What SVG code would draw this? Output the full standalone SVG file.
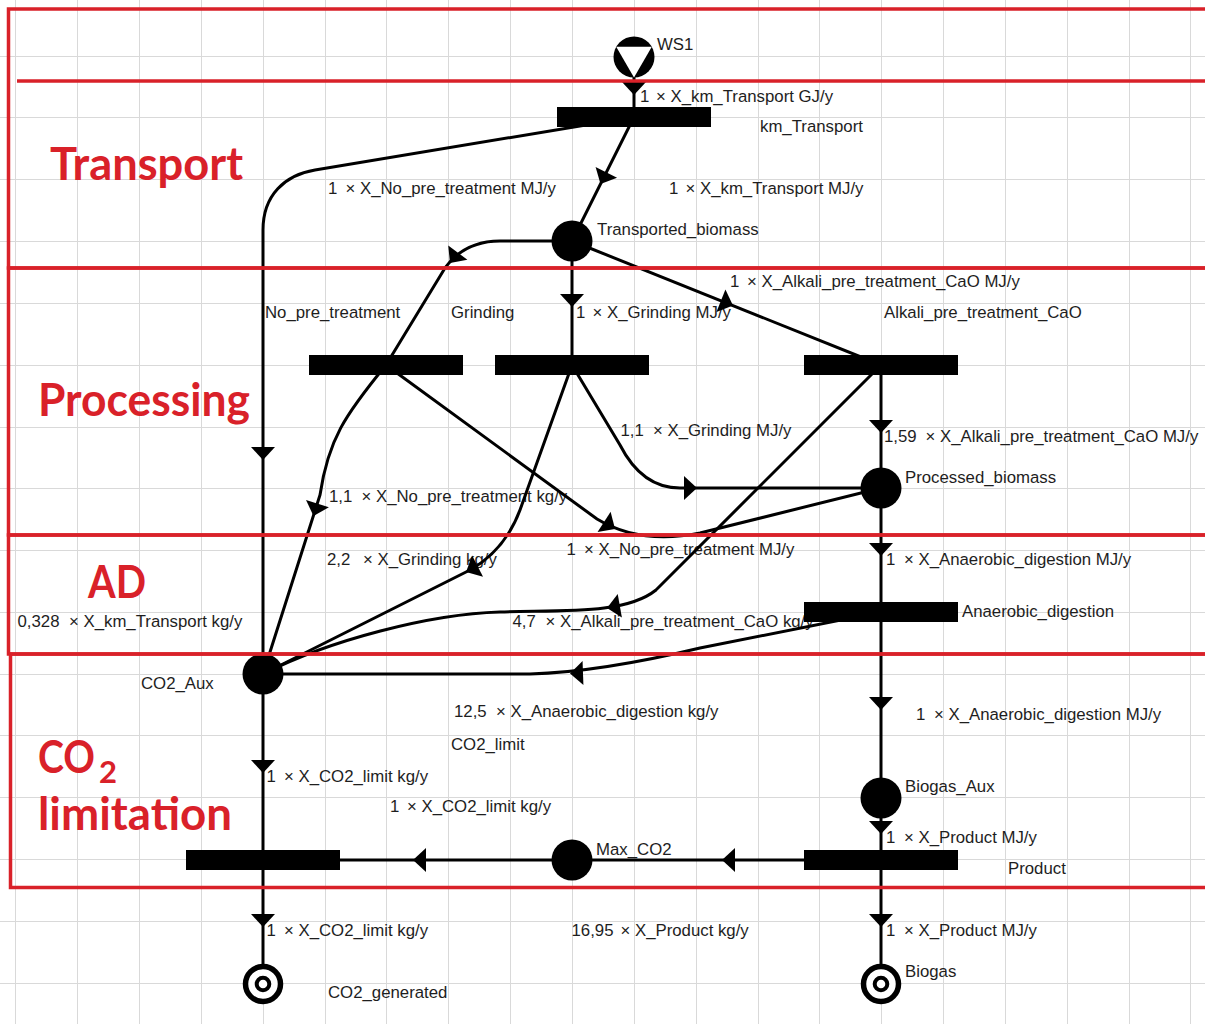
<svg xmlns="http://www.w3.org/2000/svg" xmlns:xlink="http://www.w3.org/1999/xlink" width="1205" height="1024" viewBox="0 0 1205 1024">
<style>
.grid{stroke:#d9d9d9;stroke-width:1;fill:none}
.e{fill:none;stroke:#000;stroke-width:3}
.t{font-family:"Liberation Sans",Arial,sans-serif;font-size:16.8px;fill:#1e1e1e}
.fr{fill:none;stroke:#d92129;stroke-width:3.5}
.h{font-family:Lato,"Open Sans",sans-serif;font-weight:700;font-size:45px;fill:#d92129}
.bar{fill:#000}
.pl{fill:#000}
.sk{fill:#fff;stroke:#000}
</style>
<defs>
<path id="a" d="M0,0 L-13,-12 L-13,12 Z" fill="#000"/>
</defs>
<rect x="0" y="0" width="1205" height="1024" fill="#fff"/>
<path class="grid" d="M15.5,0V1024M77.5,0V1024M139.5,0V1024M201.5,0V1024M263.5,0V1024M325.5,0V1024M386.5,0V1024M448.5,0V1024M510.5,0V1024M572.5,0V1024M634.5,0V1024M696.5,0V1024M758.5,0V1024M819.5,0V1024M881.5,0V1024M943.5,0V1024M1005.5,0V1024M1067.5,0V1024M1129.5,0V1024M1190.5,0V1024M0,56.5H1205M0,117.5H1205M0,179.5H1205M0,241.5H1205M0,303.5H1205M0,365.5H1205M0,427.5H1205M0,488.5H1205M0,550.5H1205M0,612.5H1205M0,674.5H1205M0,735.5H1205M0,797.5H1205M0,859.5H1205M0,921.5H1205M0,983.5H1205"/>

<g id="edge-labels" class="t">
<text x="640" y="102">1 <tspan x="656">× X_km_Transport GJ/y</tspan></text>
<text x="328" y="194">1 <tspan x="345.5">× X_No_pre_treatment MJ/y</tspan></text>
<text x="669" y="194">1 <tspan x="685.5">× X_km_Transport MJ/y</tspan></text>
<text x="730" y="287">1 <tspan x="747">× X_Alkali_pre_treatment_CaO MJ/y</tspan></text>
<text x="576" y="318">1 <tspan x="592.5">× X_Grinding MJ/y</tspan></text>
<text x="620.5" y="436">1,1 <tspan x="653">× X_Grinding MJ/y</tspan></text>
<text x="884" y="442">1,59 <tspan x="925.5">× X_Alkali_pre_treatment_CaO MJ/y</tspan></text>
<text x="329" y="502">1,1 <tspan x="361.5">× X_No_pre_treatment kg/y</tspan></text>
<text x="327" y="565">2,2 <tspan x="363">× X_Grinding kg/y</tspan></text>
<text x="566.5" y="555">1 <tspan x="584">× X_No_pre_treatment MJ/y</tspan></text>
<text x="886" y="565">1 <tspan x="904">× X_Anaerobic_digestion MJ/y</tspan></text>
<text x="17.5" y="627">0,328 <tspan x="69">× X_km_Transport kg/y</tspan></text>
<text x="512.5" y="627">4,7 <tspan x="545.5">× X_Alkali_pre_treatment_CaO kg/y</tspan></text>
<text x="454" y="717">12,5 <tspan x="496">× X_Anaerobic_digestion kg/y</tspan></text>
<text x="916" y="720">1 <tspan x="934">× X_Anaerobic_digestion MJ/y</tspan></text>
<text x="266.5" y="782">1 <tspan x="284">× X_CO2_limit kg/y</tspan></text>
<text x="390" y="812">1 <tspan x="407">× X_CO2_limit kg/y</tspan></text>
<text x="886" y="843">1 <tspan x="904">× X_Product MJ/y</tspan></text>
<text x="266.5" y="936">1 <tspan x="284">× X_CO2_limit kg/y</tspan></text>
<text x="571.5" y="936">16,95 <tspan x="620.5">× X_Product kg/y</tspan></text>
<text x="886" y="936">1 <tspan x="904">× X_Product MJ/y</tspan></text>
</g>

<g id="connectors">
<path class="e" d="M634,77 L634,117"/>
<use xlink:href="#a" href="#a" transform="translate(634,95) rotate(90)"/>
<path class="e" d="M634,117 L572,241"/>
<use xlink:href="#a" href="#a" transform="translate(600.5,184) rotate(116.6)"/>
<path class="e" d="M634,117 L315,170 C285,175 263,195 263,230 L263,674"/>
<use xlink:href="#a" href="#a" transform="translate(263,460) rotate(90)"/>
<path class="e" d="M572,241 L500,241 C476,241 458,250 445,268 L386,365"/>
<use xlink:href="#a" href="#a" transform="translate(450,263) rotate(127)"/>
<path class="e" d="M572,241 L572,365"/>
<use xlink:href="#a" href="#a" transform="translate(572,307) rotate(90)"/>
<path class="e" d="M572,241 L881,365"/>
<use xlink:href="#a" href="#a" transform="translate(733,305.6) rotate(21.9)"/>
<path class="e" d="M386,365 C345,415 328,440 320,495 L263,674"/>
<use xlink:href="#a" href="#a" transform="translate(313.5,516) rotate(107.7)"/>
<path class="e" d="M386,365 L597,519 Q640,545 700,533 L881,488"/>
<use xlink:href="#a" href="#a" transform="translate(615,529) rotate(33)"/>
<path class="e" d="M572,365 L620,445 Q642,488 680,488 L881,488"/>
<use xlink:href="#a" href="#a" transform="translate(697,488)"/>
<path class="e" d="M572,365 L520,510 Q505,550 470,570 L263,674"/>
<use xlink:href="#a" href="#a" transform="translate(466,572) rotate(153)"/>
<path class="e" d="M881,365 L881,488"/>
<use xlink:href="#a" href="#a" transform="translate(881,433) rotate(90)"/>
<path class="e" d="M881,365 L656,590 C625,615 560,610 500,612 C430,614 330,640 263,674"/>
<use xlink:href="#a" href="#a" transform="translate(607,608) rotate(170)"/>
<path class="e" d="M881,488 L881,612"/>
<use xlink:href="#a" href="#a" transform="translate(881,556) rotate(90)"/>
<path class="e" d="M881,612 L700,648 Q600,672 530,674 L263,674"/>
<use xlink:href="#a" href="#a" transform="translate(570,673.5) rotate(178)"/>
<path class="e" d="M881,612 L881,798"/>
<use xlink:href="#a" href="#a" transform="translate(881,710) rotate(90)"/>
<path class="e" d="M881,798 L881,860"/>
<use xlink:href="#a" href="#a" transform="translate(881,834) rotate(90)"/>
<path class="e" d="M881,860 L572,860"/>
<use xlink:href="#a" href="#a" transform="translate(722,860) rotate(180)"/>
<path class="e" d="M572,860 L263,860"/>
<use xlink:href="#a" href="#a" transform="translate(413,860) rotate(180)"/>
<path class="e" d="M263,674 L263,860"/>
<use xlink:href="#a" href="#a" transform="translate(263,773) rotate(90)"/>
<path class="e" d="M263,860 L263,984"/>
<use xlink:href="#a" href="#a" transform="translate(263,927) rotate(90)"/>
<path class="e" d="M881,860 L881,984"/>
<use xlink:href="#a" href="#a" transform="translate(881,927) rotate(90)"/>
</g>

<g id="WS1">
<circle class="pl" cx="634" cy="57" r="20.5"/>
<polygon points="616.2,46.8 651.8,46.8 634,77.5" fill="#fff"/>
<text class="t" x="657" y="50">WS1</text>
</g>
<g id="km_Transport">
<rect class="bar" x="557" y="107" width="154" height="20"/>
<text class="t" x="760" y="132">km_Transport</text>
</g>
<g id="Transported_biomass">
<circle class="pl" cx="572" cy="241" r="20.5"/>
<text class="t" x="597" y="235">Transported_biomass</text>
</g>
<g id="No_pre_treatment">
<rect class="bar" x="309" y="355" width="154" height="20"/>
<text class="t" x="265" y="318">No_pre_treatment</text>
</g>
<g id="Grinding">
<rect class="bar" x="495" y="355" width="154" height="20"/>
<text class="t" x="451" y="318">Grinding</text>
</g>
<g id="Alkali_pre_treatment_CaO">
<rect class="bar" x="804" y="355" width="154" height="20"/>
<text class="t" x="884" y="318">Alkali_pre_treatment_CaO</text>
</g>
<g id="Processed_biomass">
<circle class="pl" cx="881" cy="488" r="20.5"/>
<text class="t" x="905" y="483">Processed_biomass</text>
</g>
<g id="Anaerobic_digestion">
<rect class="bar" x="804" y="602" width="154" height="20"/>
<text class="t" x="962" y="617">Anaerobic_digestion</text>
</g>
<g id="CO2_Aux">
<circle class="pl" cx="263" cy="674" r="20.5"/>
<text class="t" x="141" y="689">CO2_Aux</text>
</g>
<g id="CO2_limit">
<rect class="bar" x="186" y="850" width="154" height="20"/>
<text class="t" x="451" y="750">CO2_limit</text>
</g>
<g id="Biogas_Aux">
<circle class="pl" cx="881" cy="798" r="20.5"/>
<text class="t" x="905" y="792">Biogas_Aux</text>
</g>
<g id="Max_CO2">
<circle class="pl" cx="572" cy="860" r="20.5"/>
<text class="t" x="596" y="855">Max_CO2</text>
</g>
<g id="Product">
<rect class="bar" x="804" y="850" width="154" height="20"/>
<text class="t" x="1008" y="874">Product</text>
</g>
<g id="CO2_generated">
<circle class="sk" cx="263" cy="984" r="17.5" stroke-width="5.5"/>
<circle class="sk" cx="263" cy="984" r="6.3" stroke-width="4"/>
<text class="t" x="328" y="998">CO2_generated</text>
</g>
<g id="Biogas">
<circle class="sk" cx="881" cy="984" r="17.5" stroke-width="5.5"/>
<circle class="sk" cx="881" cy="984" r="6.3" stroke-width="4"/>
<text class="t" x="905" y="977">Biogas</text>
</g>

<g id="regions">
<rect class="fr" x="8.5" y="9" width="1210" height="259"/>
<line class="fr" x1="17" y1="81" x2="1210" y2="81"/>
<rect class="fr" x="8.5" y="268" width="1210" height="267"/>
<rect class="fr" x="8.5" y="535" width="1210" height="119"/>
<rect class="fr" x="10.5" y="654" width="1210" height="233.5"/>
<text class="h" x="50" y="180" textLength="193" lengthAdjust="spacingAndGlyphs">Transport</text>
<text class="h" x="38" y="416" textLength="212" lengthAdjust="spacingAndGlyphs">Processing</text>
<text class="h" x="88" y="598" textLength="58" lengthAdjust="spacingAndGlyphs">AD</text>
<text class="h"><tspan x="38" y="773" textLength="57" lengthAdjust="spacingAndGlyphs">CO</tspan><tspan x="99" y="783" font-size="31">2</tspan><tspan x="38" y="830" textLength="194" lengthAdjust="spacingAndGlyphs">limitation</tspan></text>
</g>
</svg>
